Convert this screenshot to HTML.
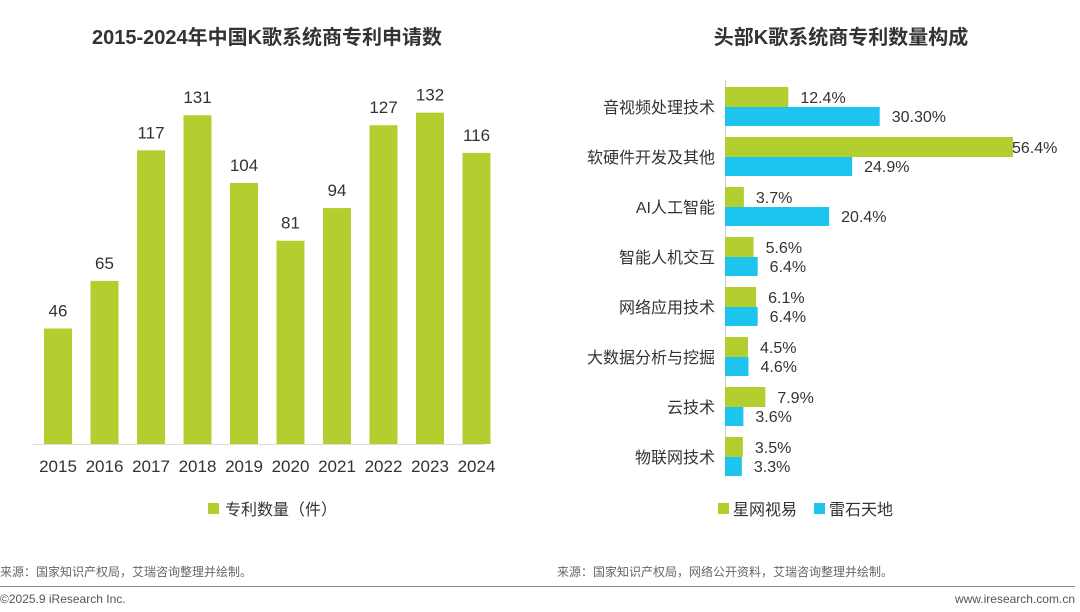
<!DOCTYPE html>
<html><head><meta charset="utf-8"><style>
body{margin:0;width:1080px;height:607px;background:#fff;overflow:hidden;font-family:"Liberation Sans","Noto Sans CJK SC",sans-serif}
svg text{font-family:"Liberation Sans","Noto Sans CJK SC",sans-serif}
</style></head><body>
<svg id="s" width="1080" height="607">
<text x="267" y="44" text-anchor="middle" font-size="20" font-weight="bold" fill="#333">2015-2024年中国K歌系统商专利申请数</text>
<text x="841" y="44" text-anchor="middle" font-size="20" font-weight="bold" fill="#333">头部K歌系统商专利数量构成</text>
<line x1="33" y1="444.5" x2="484" y2="444.5" stroke="#ddd" stroke-width="1"/>
<rect x="208" y="503" width="11" height="11" fill="#b3cf2f"/>
<text x="225" y="515" font-size="16" fill="#333">专利数量（件）</text>
<line x1="725.5" y1="80" x2="725.5" y2="477" stroke="#ccc" stroke-width="1"/>
<rect x="718" y="503" width="11" height="11" fill="#b3cf2f"/>
<text x="733" y="515" font-size="16" fill="#333">星网视易</text>
<rect x="814" y="503" width="11" height="11" fill="#1dc4ed"/>
<text x="829" y="515" font-size="16" fill="#333">雷石天地</text>
<text x="0" y="576" font-size="12" fill="#666">来源：国家知识产权局，艾瑞咨询整理并绘制。</text>
<text x="557" y="576" font-size="12" fill="#666">来源：国家知识产权局，网络公开资料，艾瑞咨询整理并绘制。</text>
<line x1="0" y1="586.5" x2="1075" y2="586.5" stroke="#888" stroke-width="1"/>
<text x="0" y="603" font-size="12" fill="#555">©2025.9 iResearch Inc.</text>
<text x="1075" y="603" text-anchor="end" font-size="12" fill="#555">www.iresearch.com.cn</text>
</svg>
<script>
const years=["2015","2016","2017","2018","2019","2020","2021","2022","2023","2024"];
const patents=[46,65,117,131,104,81,94,127,132,116];
const categories=["音视频处理技术","软硬件开发及其他","AI人工智能","智能人机交互","网络应用技术","大数据分析与挖掘","云技术","物联网技术"];
const xingwang=[12.4,56.4,3.7,5.6,6.1,4.5,7.9,3.5];
const leishi=[30.3,24.9,20.4,6.4,6.4,4.6,3.6,3.3];
const xingwangLabels=["12.4%","56.4%","3.7%","5.6%","6.1%","4.5%","7.9%","3.5%"];
const leishiLabels=["30.30%","24.9%","20.4%","6.4%","6.4%","4.6%","3.6%","3.3%"];
const s=document.getElementById('s');const NS="http://www.w3.org/2000/svg";
function mk(t,a){const e=document.createElementNS(NS,t);for(const k in a)e.setAttribute(k,a[k]);s.appendChild(e);return e;}
const yL=v=>444-v*2.51;const xL=i=>58+i*46.5;
years.forEach((y,i)=>{
 const b=mk('rect',{x:xL(i)-14,y:yL(patents[i]),width:28,height:444-yL(patents[i]),fill:'#b3cf2f'});
 
 
 const v=mk('text',{x:xL(i),y:yL(patents[i])-12,'text-anchor':'middle','font-size':17,fill:'#333'});v.textContent=patents[i];
 
 
 const t=mk('text',{x:xL(i),y:472,'text-anchor':'middle','font-size':17,fill:'#333'});t.textContent=y;
 
 
});
const xR=v=>725+v*5.106;const gY=i=>87+i*50;
categories.forEach((c,i)=>{
 const g=mk('rect',{x:725,y:gY(i),width:xR(xingwang[i])-725,height:20,fill:'#b3cf2f'});
 
 
 const b=mk('rect',{x:725,y:gY(i)+20,width:xR(leishi[i])-725,height:19,fill:'#1dc4ed'});
 
 
 let gx=xR(xingwang[i])+12;if(gx>1012)gx=xR(xingwang[i])-1;
 const gl=mk('text',{x:gx,y:gY(i)+16,'font-size':16,fill:'#333'});gl.textContent=xingwangLabels[i];
 
 
 const bl=mk('text',{x:xR(leishi[i])+12,y:gY(i)+35,'font-size':16,fill:'#333'});bl.textContent=leishiLabels[i];
 
 
 const cl=mk('text',{x:715,y:gY(i)+26,'text-anchor':'end','font-size':16,fill:'#333'});cl.textContent=c;
 
 
});
</script>
</body></html>
